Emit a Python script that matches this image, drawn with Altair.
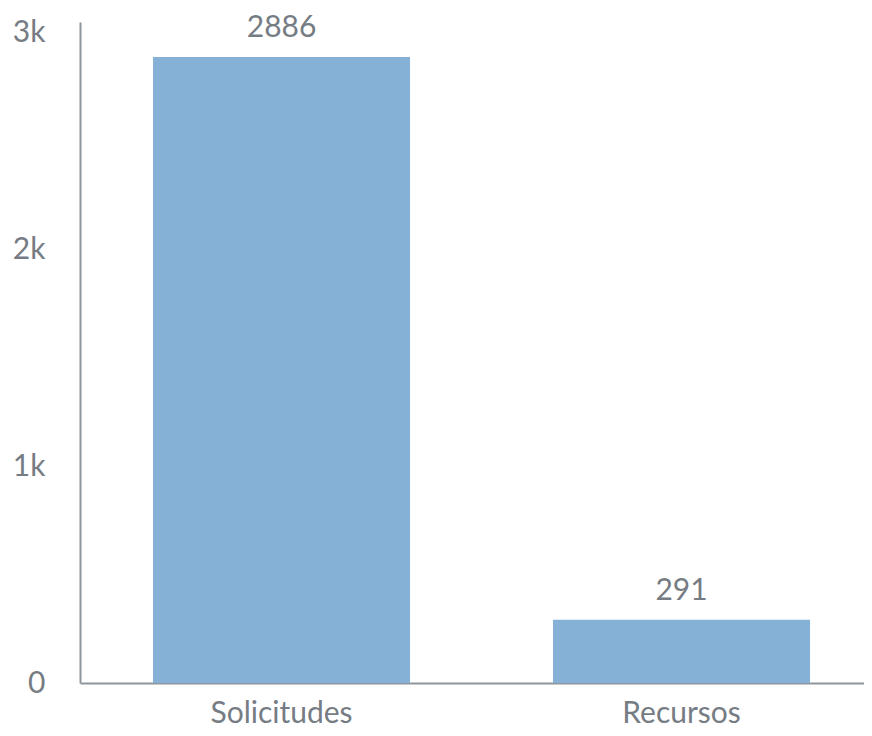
import altair as alt
import pandas as pd

categories = ["Solicitudes", "Recursos"]
values = [2886, 291]

df = pd.DataFrame({"categoria": categories, "valor": values})

TEXT = "#767C83"
AXIS = "#8E969D"
BAR = "#85B1D6"
FS = 30

base = alt.Chart(df).encode(
    x=alt.X(
        "categoria:N",
        sort=categories,
        title=None,
        scale=alt.Scale(paddingInner=0.3575, paddingOuter=0.15875, align=0.575),
        axis=alt.Axis(
            labelAngle=0,
            labelFont="Lato",
            labelFontSize=FS,
            labelColor=TEXT,
            labelPadding=15,
            ticks=False,
            domainColor=AXIS,
            domainWidth=2,
            grid=False,
        ),
    ),
    y=alt.Y(
        "valor:Q",
        title=None,
        scale=alt.Scale(domain=[0, 3047], nice=False),
        axis=alt.Axis(
            values=[0, 1000, 2000, 3000],
            labelExpr="datum.value == 0 ? '0' : (datum.value / 1000) + 'k'",
            labelFont="Lato",
            labelFontSize=FS,
            labelColor=TEXT,
            labelPadding=35,
            ticks=False,
            domainColor=AXIS,
            domainWidth=2,
            grid=False,
        ),
    ),
)

bars = base.mark_bar(color=BAR)
labels = base.mark_text(
    baseline="alphabetic", dy=-20, font="Lato", fontSize=FS, color=TEXT
).encode(text="valor:Q")

chart = (
    alt.layer(bars, labels, view=alt.ViewBackground(stroke="transparent", strokeWidth=0))
    .properties(
        width=784,
        height=661,
        autosize=alt.AutoSizeParams(type="none"),
        padding={"left": 72, "top": 14, "right": 0, "bottom": 45},
    )
    .configure_view(stroke="transparent", strokeOpacity=0)
    .configure_axis(grid=False)
    .configure(background="white")
)

chart.save("out.html", embed_options={"renderer": "svg", "actions": False})
